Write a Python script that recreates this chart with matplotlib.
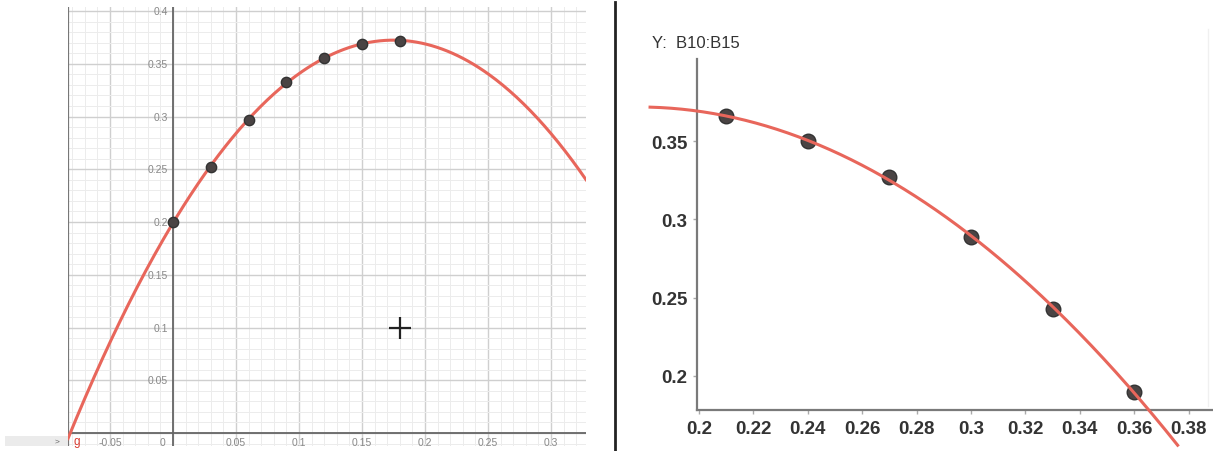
import numpy as np
import matplotlib.pyplot as plt
from matplotlib.ticker import MultipleLocator, FixedLocator

plt.rcParams['font.family'] = ['Liberation Sans', 'DejaVu Sans']

# measured points (x: horizontal distance, y: height)
x_left = [0.0, 0.03, 0.06, 0.09, 0.12, 0.15, 0.18]
y_left = [0.200, 0.252, 0.297, 0.333, 0.355, 0.369, 0.372]

x_right = [0.21, 0.24, 0.27, 0.30, 0.33, 0.36]
y_right = [0.366, 0.350, 0.327, 0.289, 0.243, 0.190]

cursor_pt = (0.18, 0.10)

left_xticks = [-0.05, 0.05, 0.1, 0.15, 0.2, 0.25, 0.3]
left_yticks = [0.05, 0.1, 0.15, 0.2, 0.25, 0.3, 0.35, 0.4]
right_xticks = [0.2, 0.22, 0.24, 0.26, 0.28, 0.3, 0.32, 0.34, 0.36, 0.38]
right_yticks = [0.2, 0.25, 0.3, 0.35]

W, H = 1213, 452
fig = plt.figure(figsize=(W / 100, H / 100), dpi=100)
fig.patch.set_facecolor('white')


def px_axes(l, t, r, b):
    return fig.add_axes([l / W, 1 - b / H, (r - l) / W, (b - t) / H])


curve_col = '#e8665b'
pt_col = '#4a4444'

# ---------------- left panel (GeoGebra-like graphics view) ----------------
ax = px_axes(68, 8, 586, 447)
ax.set_xlim(-0.0833, 0.3278)
ax.set_ylim(-0.0123, 0.4038)
for s in ax.spines.values():
    s.set_visible(False)
ax.xaxis.set_major_locator(MultipleLocator(0.05))
ax.xaxis.set_minor_locator(MultipleLocator(0.01))
ax.yaxis.set_major_locator(MultipleLocator(0.05))
ax.yaxis.set_minor_locator(MultipleLocator(0.01))
ax.grid(which='major', color='#cfcfcf', lw=1.0)
ax.grid(which='minor', color='#ececec', lw=0.7)
ax.tick_params(which='both', length=0, labelbottom=False, labelleft=False)
ax.set_axisbelow(True)

ax.axhline(0, color='#666666', lw=1.3, zorder=2)
ax.axvline(0, color='#666666', lw=1.3, zorder=2)
ax.axvline(-0.0833, color='#777777', lw=1.6, zorder=2)

for v in left_xticks:
    ax.text(v, -0.004, f'{v:g}', ha='center', va='top', fontsize=7.5,
            color='#888888')
for v in left_yticks:
    ax.text(-0.004, v, f'{v:g}', ha='right', va='center', fontsize=7.5,
            color='#888888')
ax.text(-0.008, -0.004, '0', ha='center', va='top', fontsize=7.5, color='#888888')

cl = np.polyfit(x_left, y_left, 2)
xs = np.linspace(-0.0833, 0.3278, 300)
ax.plot(xs, np.polyval(cl, xs), color=curve_col, lw=2.2, zorder=3,
        clip_on=True)
ax.scatter(x_left, y_left, s=55, color=pt_col, edgecolor='#333333',
           lw=1.0, zorder=4)
ax.plot(*cursor_pt, marker='+', ms=16, mew=1.6, color='#222222', zorder=5)

# collapsed algebra view bar
fig.patches.append(plt.Rectangle((5 / W, 1 - 447 / H), 63 / W, 10 / H,
                                 transform=fig.transFigure,
                                 facecolor='#ebebeb', edgecolor='none'))
fig.text(57 / W, 1 - 442 / H, '>', fontsize=6, color='#666666',
         ha='center', va='center')
fig.text(77 / W, 1 - 442 / H, 'g', fontsize=8.5, color='#d83a30',
         ha='center', va='center')

# divider
fig.add_artist(plt.Line2D([615 / W, 615 / W], [0, 1 - 3 / H],
                          transform=fig.transFigure, color='#222222', lw=2))
fig.add_artist(plt.Line2D([1208 / W, 1208 / W], [0.1, 1 - 30 / H],
                          transform=fig.transFigure, color='#f0f0f0', lw=1))

# ---------------- right panel (spreadsheet chart) ----------------
ax2 = px_axes(640, 55, 1213, 452)
ax2.set_xlim(0.1783, 0.389)
ax2.set_ylim(0.152, 0.4058)
ax2.patch.set_alpha(0)
ax2.spines['top'].set_visible(False)
ax2.spines['right'].set_visible(False)
ax2.spines['left'].set_position(('data', 0.1993))
ax2.spines['bottom'].set_position(('data', 0.178))
ax2.spines['left'].set_bounds(0.178, 0.4026)
ax2.spines['bottom'].set_bounds(0.1993, 0.389)
for s in ('left', 'bottom'):
    ax2.spines[s].set_color('#7a7a7a')
    ax2.spines[s].set_linewidth(1.6)
ax2.xaxis.set_major_locator(FixedLocator(right_xticks))
ax2.yaxis.set_major_locator(FixedLocator(right_yticks))
ax2.set_xticklabels([f'{v:g}' for v in right_xticks])
ax2.set_yticklabels([f'{v:g}' for v in right_yticks])
ax2.tick_params(length=3, width=1, color='#aaaaaa', labelsize=13.5,
                labelcolor='#333333', pad=4)
for lab in ax2.get_xticklabels() + ax2.get_yticklabels():
    lab.set_fontweight('bold')

cr = np.polyfit(x_right, y_right, 2)
xs2 = np.linspace(0.182, 0.376, 300)
ax2.scatter(x_right, y_right, s=110, color=pt_col, edgecolor='#333333',
            lw=1.0, zorder=3, clip_on=False)
ax2.plot(xs2, np.polyval(cr, xs2), color=curve_col, lw=2.2, zorder=4,
         clip_on=False)

fig.text(652 / W, 1 - 43 / H, 'Y:  B10:B15', fontsize=12, color='#333333',
         ha='left', va='center')

fig.savefig('out.png', dpi=100)
